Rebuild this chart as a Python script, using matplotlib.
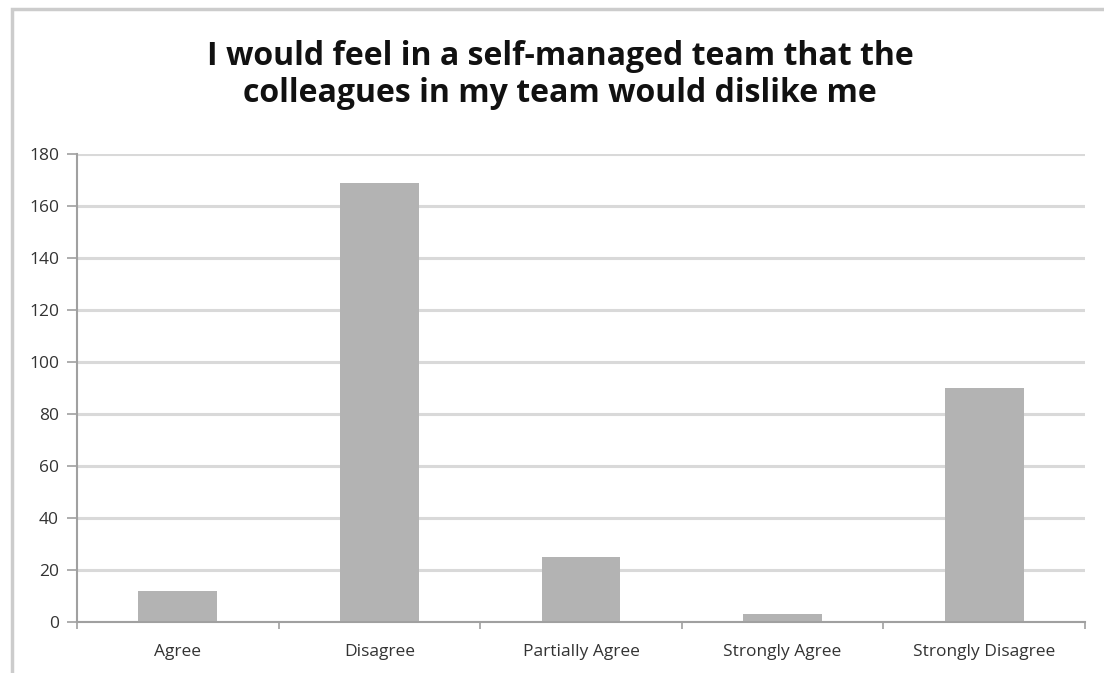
import matplotlib.pyplot as plt
from matplotlib.patches import Rectangle
from matplotlib.ticker import FixedLocator

# Survey responses
categories = ["Agree", "Disagree", "Partially Agree", "Strongly Agree", "Strongly Disagree"]
counts = [12, 169, 25, 3, 90]
yticks = [0, 20, 40, 60, 80, 100, 120, 140, 160, 180]

TITLE = "I would feel in a self-managed team that the\ncolleagues in my team would dislike me"

plt.rcParams['font.family'] = ['Open Sans', 'DejaVu Sans']

W, H = 1104, 673
fig = plt.figure(figsize=(W / 100, H / 100), dpi=100)

# outer chart frame (cut off at the right and bottom)
fig.patches.append(Rectangle((11.5 / W, -0.1), 1.2, 1 - 9.5 / H + 0.1, transform=fig.transFigure,
                             fill=False, edgecolor='#cccccc', linewidth=2.5))

ax = fig.add_axes([77 / W, 1 - 622 / H, (1085 - 77) / W, (622 - 154) / H])
x = list(range(len(categories)))
ax.bar(x, counts, width=0.39, color='#b3b3b3', zorder=3)

ax.set_xlim(-0.5, len(categories) - 0.5)
ax.set_ylim(0, 180)
ax.set_yticks(yticks)
ax.set_xticks(x)
ax.set_xticklabels(categories, fontsize=12.5, color='#333333')
ax.tick_params(axis='y', labelsize=12.5, labelcolor='#333333', length=7, color='#a0a0a0', width=1.2, pad=6)
ax.tick_params(axis='x', which='major', length=0, pad=16)
ax.xaxis.set_minor_locator(FixedLocator([i + 0.5 for i in range(-1, len(categories))]))
ax.tick_params(axis='x', which='minor', length=5, color='#a0a0a0', width=1.2)

ax.grid(axis='y', color='#d9d9d9', linewidth=2.2, zorder=0)
ax.set_axisbelow(True)
for side in ['top', 'right']:
    ax.spines[side].set_visible(False)
for side in ['left', 'bottom']:
    ax.spines[side].set_color('#a0a0a0')
    ax.spines[side].set_linewidth(1.5)
    ax.spines[side].set_zorder(4)

fig.text(560 / W, 1 - 75 / H, TITLE, ha='center', va='center', fontsize=23,
         fontweight='bold', color='#111111', linespacing=1.15)

fig.savefig('out.png', dpi=100)
